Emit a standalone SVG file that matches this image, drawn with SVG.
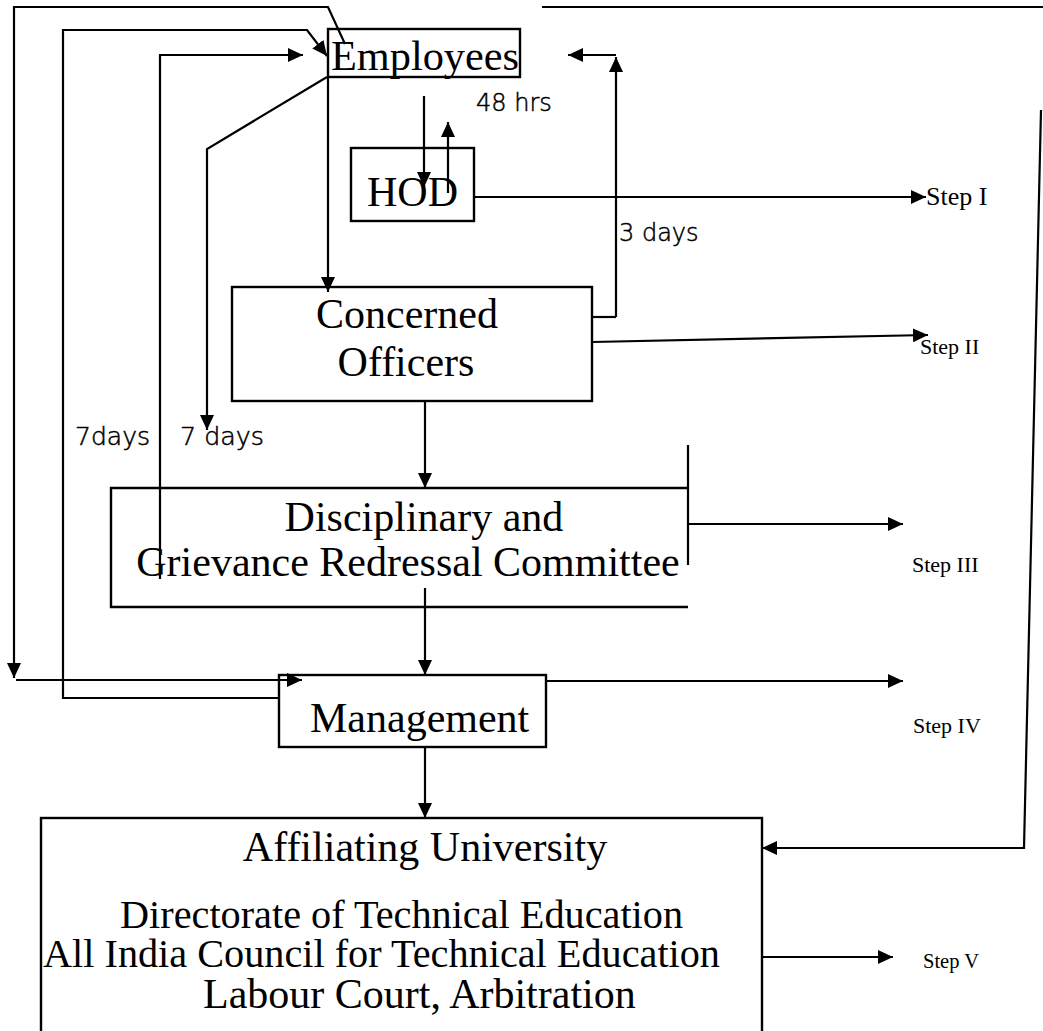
<svg xmlns="http://www.w3.org/2000/svg" width="1043" height="1031" viewBox="0 0 1043 1031">
<style>
.box{fill:none;stroke:#000;stroke-width:2.4}
.ln{fill:none;stroke:#000;stroke-width:2.2}
.arr{marker-end:url(#ah)}
.big{font-family:"Liberation Serif","Times New Roman",serif;font-size:42px;fill:#000}
.step{font-family:"Liberation Serif","Times New Roman",serif;font-size:22px;fill:#000}
.lbl{font-family:"DejaVu Sans",sans-serif;font-weight:200;font-size:24px;fill:#000;stroke:#000;stroke-width:0.5}
</style>
<defs>
<marker id="ah" markerUnits="userSpaceOnUse" markerWidth="16" markerHeight="14" refX="15" refY="7" orient="auto">
<path d="M0,0 L15,7 L0,14 z" fill="#000"/>
</marker>
</defs>
<rect width="1043" height="1031" fill="#fff"/>

<g id="connectors">
<path class="ln arr" d="M345,44 L328,7 L14,7 L14,678"/>
<path class="ln arr" d="M16,680 L302,680"/>
<path class="ln arr" d="M279,698 L63,698 L63,30 L307,30 L327,56"/>
<path class="ln arr" d="M160,579 L160,55 L303,55"/>
<path class="ln arr" d="M327,77 L207,149 L207,430"/>
<path class="ln arr" d="M328,77 L328,292"/>
<path class="ln arr" d="M424,96 L424,187"/>
<path class="ln arr" d="M448,193 L448,122"/>
<path class="ln arr" d="M474,197 L926,197"/>
<path class="ln" d="M592,317 L616,317"/>
<path class="ln arr" d="M616,317 L616,57"/>
<path class="ln arr" d="M616,55 L568,55"/>
<path class="ln arr" d="M592,342 L928,335"/>
<path class="ln" d="M688,445 L688,565"/>
<path class="ln arr" d="M688,524 L903,524"/>
<path class="ln arr" d="M425,401 L425,488"/>
<path class="ln arr" d="M425,588 L425,675"/>
<path class="ln arr" d="M546,681 L903,681"/>
<path class="ln arr" d="M425,747 L425,818"/>
<path class="ln" d="M542,7 L1043,7"/>
<path class="ln arr" d="M1041,110 L1024,848 L762,848"/>
<path class="ln arr" d="M762,957 L893,957"/>
</g>

<g id="employees">
<rect class="box" x="328" y="29" width="192" height="48"/>
<text class="big" x="331" y="70" textLength="188" lengthAdjust="spacingAndGlyphs">Employees</text>
</g>
<g id="hod">
<rect class="box" x="351" y="148" width="123" height="73"/>
<text class="big" x="367" y="206">HOD</text>
</g>
<g id="concerned-officers">
<rect class="box" x="232" y="287" width="360" height="114"/>
<text class="big" x="407" y="328" text-anchor="middle">Concerned</text>
<text class="big" x="406" y="376" text-anchor="middle">Officers</text>
</g>
<g id="committee">
<path class="box" d="M688,488 L111,488 L111,607 L688,607"/>
<text class="big" x="424" y="531" text-anchor="middle">Disciplinary and</text>
<text class="big" x="408" y="576" text-anchor="middle">Grievance Redressal Committee</text>
</g>
<g id="management">
<rect class="box" x="279" y="675" width="267" height="72"/>
<text class="big" x="310" y="732">Management</text>
</g>
<g id="university">
<rect class="box" x="41" y="818" width="721" height="230"/>
<text class="big" x="425" y="861" text-anchor="middle">Affiliating University</text>
<text class="big" x="120" y="928" textLength="563" lengthAdjust="spacingAndGlyphs" style="font-size:40px">Directorate of Technical Education</text>
<text class="big" x="43" y="967" textLength="677" lengthAdjust="spacingAndGlyphs" style="font-size:40px">All India Council for Technical Education</text>
<text class="big" x="203" y="1008">Labour Court, Arbitration</text>
</g>

<g id="labels">
<text class="lbl" x="476" y="111">48 hrs</text>
<text class="lbl" x="619" y="241">3 days</text>
<text class="lbl" x="75" y="445" textLength="75" lengthAdjust="spacingAndGlyphs">7days</text>
<text class="lbl" x="180" y="445" textLength="84" lengthAdjust="spacingAndGlyphs">7 days</text>
<text class="step" x="926" y="205" style="font-size:26px">Step I</text>
<text class="step" x="920" y="354">Step II</text>
<text class="step" x="912" y="572">Step III</text>
<text class="step" x="913" y="733">Step IV</text>
<text class="step" x="923" y="968" textLength="56" lengthAdjust="spacingAndGlyphs">Step V</text>
</g>
</svg>
